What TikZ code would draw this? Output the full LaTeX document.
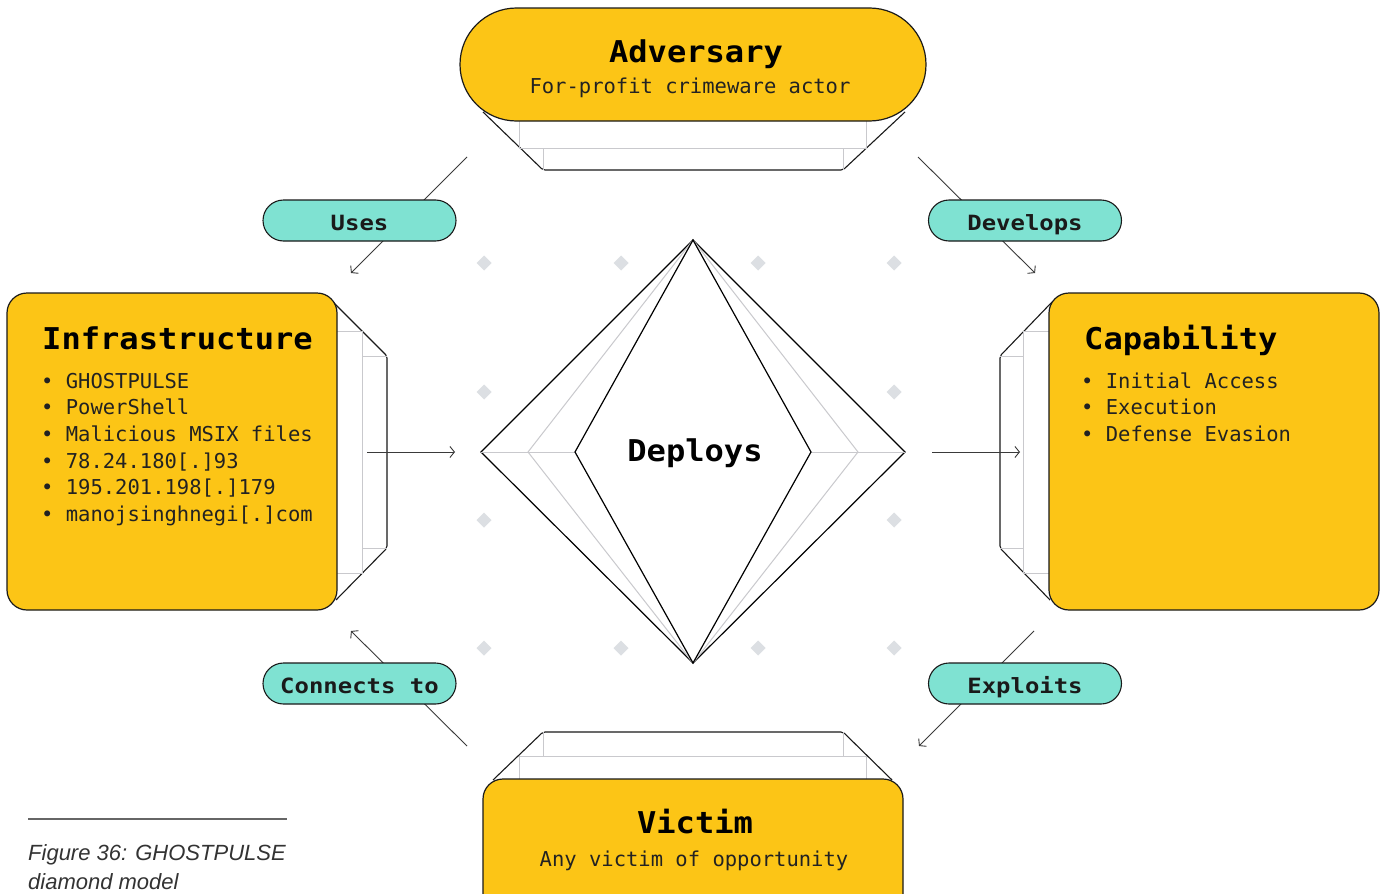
\documentclass[tikz,border=0pt]{standalone}
\usepackage{fontspec}
\setmainfont{DejaVu Sans Mono}
\newfontfamily\ttlfont[FakeStretch=1.07]{DejaVu Sans Mono}
\newfontfamily\lblfont[FakeStretch=1.14]{DejaVu Sans Mono}
\newfontfamily\capfont{Liberation Sans}
\usetikzlibrary{arrows.meta}
\definecolor{ylw}{HTML}{FCC516}
\definecolor{pillc}{HTML}{7FE2D2}
\definecolor{ink}{HTML}{1A1A1A}
\definecolor{gr}{HTML}{C9C9CD}
\definecolor{dotc}{HTML}{DCDFE3}
\definecolor{lk}{HTML}{3A3A3A}
\definecolor{txt}{HTML}{222222}
\definecolor{capc}{HTML}{333333}
\definecolor{capl}{HTML}{666666}
\begin{document}
\begin{tikzpicture}[x=1pt,y=-1pt,
  box/.style={fill=ylw,draw=ink,line width=1.2pt,rounded corners=20pt,inner sep=0pt},
  ext/.style={fill=white,draw=ink,line width=1.1pt,rounded corners=2pt},
  inl/.style={draw=gr,line width=0.9pt},
  pill/.style={fill=pillc,draw=ink,line width=1.1pt,rounded corners=20.5pt,minimum width=193pt,minimum height=41pt,inner sep=0pt,text height=19pt,text depth=0pt,font=\lblfont\bfseries\fontsize{21}{21}\selectfont,text=ink},
  conn/.style={draw=lk,line width=0.9pt},
  arr/.style={conn,-{Straight Barb[length=4.5pt,width=11pt]}},
  ttl/.style={inner sep=0pt,font=\ttlfont\bfseries\fontsize{30}{30}\selectfont,text=black},
  body/.style={inner sep=0pt,font=\fontsize{20.5}{20.5}\selectfont,text=txt},
  dm/.style={draw=black,line width=1.2pt},
  dmg/.style={draw=gr,line width=1pt}
]
\clip (0,0) rectangle (1382,894);
\fill[white] (0,0) rectangle (1382,894);

% background dots
\foreach \px/\py in {484/263,621/263,758/263,894/263,484/392,894/392,484/520,894/520,484/648,621/648,758/648,894/648}
  \fill[dotc] (\px,\py-7.5) -- (\px+7.5,\py) -- (\px,\py+7.5) -- (\px-7.5,\py) -- cycle;

% central diamond
\coordinate (dtop) at (693,240);
\coordinate (dbot) at (693,663);
\coordinate (dlo) at (481,452);
\coordinate (dlg) at (528,452);
\coordinate (dli) at (575,452);
\coordinate (dri) at (811,452);
\coordinate (drg) at (858,452);
\coordinate (dro) at (905,452);
\draw[dm,fill=white] (dtop) -- (dlo) -- (dbot) -- (dro) -- cycle;
\draw[dmg] (dtop) -- (dlg) -- (dbot);
\draw[dmg] (dtop) -- (drg) -- (dbot);
\draw[dmg] (dlo) -- (dli);
\draw[dmg] (dri) -- (dro);
\draw[dm] (dtop) -- (dli) -- (dbot) -- (dri) -- cycle;
\node[ttl,anchor=base] (deploys) at (695,461) {Deploys};

% connectors with labels
\coordinate (uses-s) at (467,157);
\coordinate (uses-e) at (351,273);
\coordinate (dev-s) at (918,157);
\coordinate (dev-e) at (1035,273);
\coordinate (con-s) at (467,746);
\coordinate (con-e) at (351,631);
\coordinate (exp-s) at (1034,631);
\coordinate (exp-e) at (919,746);
\draw[arr] (uses-s) -- (uses-e);
\draw[arr] (dev-s) -- (dev-e);
\draw[arr] (con-s) -- (con-e);
\draw[arr] (exp-s) -- (exp-e);
\node[pill] (uses) at (359.5,220.5) {Uses};
\node[pill] (develops) at (1025,220.5) {Develops};
\node[pill] (connects) at (359.5,683.5) {Connects to};
\node[pill] (exploits) at (1025,683.5) {Exploits};

% extrusions
\filldraw[ext] (483,112) -- (543,170) -- (843,170) -- (905,112);
\draw[inl] (519,121) -- (519,148) -- (866,148) -- (866,121);
\draw[inl] (543,148) -- (543,170);
\draw[inl] (843,148) -- (843,170);

\filldraw[ext] (333,302) -- (387,356) -- (387,548) -- (336,600);
\draw[inl] (337,331) -- (362.5,331) -- (362.5,573) -- (337,573);
\draw[inl] (362.5,356) -- (387,356);
\draw[inl] (362.5,548) -- (387,548);

\filldraw[ext] (1052,302) -- (1000,356) -- (1000,548) -- (1050,600);
\draw[inl] (1049,331) -- (1023,331) -- (1023,573) -- (1049,573);
\draw[inl] (1023,356) -- (1000,356);
\draw[inl] (1023,548) -- (1000,548);

\filldraw[ext] (493,780) -- (543,732) -- (843,732) -- (892,780);
\draw[inl] (519,780) -- (519,756) -- (866.5,756) -- (866.5,780);
\draw[inl] (543,732) -- (543,756);
\draw[inl] (843,732) -- (843,756);

% horizontal arrows
\coordinate (la-s) at (367,452);
\coordinate (la-e) at (455,452);
\coordinate (ra-s) at (932,452);
\coordinate (ra-e) at (1020,452);
\draw[arr] (la-s) -- (la-e);
\draw[arr] (ra-s) -- (ra-e);

% main boxes
\node[box,rounded corners=56.5pt,minimum width=466pt,minimum height=113pt] (adv) at (693,64.5) {};
\node[box,minimum width=330pt,minimum height=317pt] (infra) at (172,451.5) {};
\node[box,minimum width=330pt,minimum height=317pt] (capab) at (1214,451.5) {};
\node[box,minimum width=420pt,minimum height=135pt] (victim) at (693,846.5) {};

% texts
\node[ttl,anchor=base] (advt) at (696,62) {Adversary};
\node[body,anchor=base] (advs) at (690,93) {For-profit crimeware actor};

\node[ttl,anchor=base west] (inft) at (42,349) {Infrastructure};
\node[body,anchor=base west] (inf1) at (41,388.3) {• GHOSTPULSE};
\node[body,anchor=base west] (inf2) at (41,414.9) {• PowerShell};
\node[body,anchor=base west] (inf3) at (41,441.5) {• Malicious MSIX files};
\node[body,anchor=base west] (inf4) at (41,468.1) {• 78.24.180[.]93};
\node[body,anchor=base west] (inf5) at (41,494.7) {• 195.201.198[.]179};
\node[body,anchor=base west] (inf6) at (41,521.3) {• manojsinghnegi[.]com};

\node[ttl,anchor=base west] (capt) at (1084,349) {Capability};
\node[body,anchor=base west] (cap1) at (1081,388.3) {• Initial Access};
\node[body,anchor=base west] (cap2) at (1081,414.9) {• Execution};
\node[body,anchor=base west] (cap3) at (1081,441.5) {• Defense Evasion};

\node[ttl,anchor=base] (vict) at (695,833) {Victim};
\node[body,anchor=base] (vics) at (694,866) {Any victim of opportunity};

% caption
\coordinate (cl-s) at (28,819);
\coordinate (cl-e) at (287,819);
\draw[draw=capl,line width=1.8pt] (cl-s) -- (cl-e);
\node[anchor=base west,inner sep=0pt,font=\capfont\itshape\fontsize{22}{22}\selectfont,text=capc] (capl1) at (28,860) {Figure 36: GHOSTPULSE};
\node[anchor=base west,inner sep=0pt,font=\capfont\itshape\fontsize{22}{22}\selectfont,text=capc] (capl2) at (28,889) {diamond model};
\end{tikzpicture}
\end{document}
